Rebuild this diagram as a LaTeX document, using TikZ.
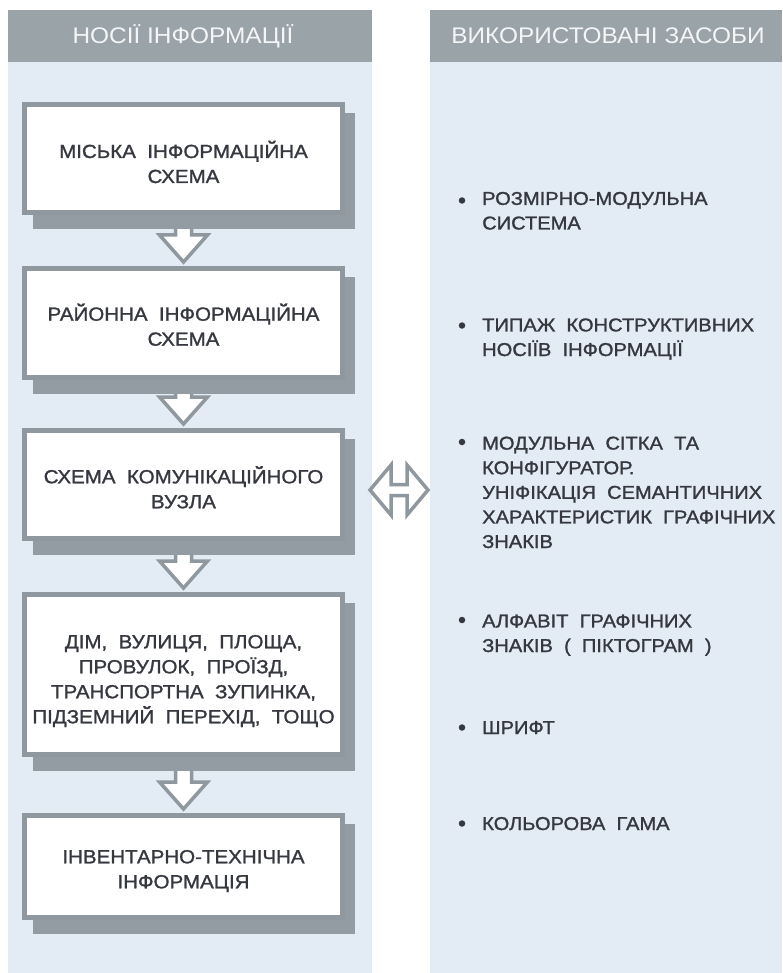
\documentclass[tikz,border=0pt]{standalone}
\usepackage{fontspec}
\setmainfont{Liberation Sans}[FakeStretch=1.08]
\newfontfamily\bodyfont{Liberation Sans}[FakeStretch=1.08, FakeBold=1.3]
\usetikzlibrary{calc,backgrounds}
\definecolor{headc}{HTML}{9AA3A8}
\definecolor{panelc}{HTML}{E3EBF4}
\definecolor{framec}{HTML}{8F989E}
\definecolor{shadowc}{HTML}{939CA2}
\definecolor{textc}{HTML}{35383F}
\definecolor{headtextc}{HTML}{F4F5F6}
\newcommand\downblock[2]{%
  \draw[blockarrow] let \p1=(#1.south), \p2=(#2.north) in
    (\x1-8pt,\y1) -- (\x1-8pt,\y2+31pt) -- (\x1-24pt,\y2+31pt) -- (\x1,\y2+4pt)
    -- (\x1+24pt,\y2+31pt) -- (\x1+8pt,\y2+31pt) -- (\x1+8pt,\y1) -- cycle;}
\newcommand\boxshadow[1]{%
  \fill[shadowc] ($(#1.north west)+(11,11)$) rectangle ($(#1.south east)+(10,14)$);}
\begin{document}
\begin{tikzpicture}[x=1pt,y=-1pt,
  infobox/.style={draw=framec, line width=5pt, fill=white, minimum width=318pt, inner sep=0pt},
  boxtext/.style={anchor=base, align=center, text=textc, font=\bodyfont\fontsize{19}{25}\selectfont, inner sep=0pt},
  itemtext/.style={anchor=base west, align=left, text=textc, font=\bodyfont\fontsize{18.6}{24.6}\selectfont, inner sep=0pt},
  headtext/.style={anchor=base, text=headtextc, font=\fontsize{22.6}{25}\selectfont, inner sep=0pt},
  blockarrow/.style={draw=framec, line width=3.5pt, fill=white, line join=miter},
  dot/.style={circle, fill=textc, minimum size=6.5pt, inner sep=0pt}]
\useasboundingbox (0,0) rectangle (782,973);

% boxes (main layer)
\node[infobox, minimum height=108pt] (b1) at (183.5,158.5) {};
\node[infobox, minimum height=109pt] (b2) at (183.5,323) {};
\node[infobox, minimum height=108pt] (b3) at (183.5,484.5) {};
\node[infobox, minimum height=160pt] (b4) at (183.5,674.5) {};
\node[infobox, minimum height=102pt] (b5) at (183.5,866.5) {};

\begin{pgfonlayer}{background}
  \fill[panelc] (8,62) rectangle (372,973);
  \fill[headc] (8,10) rectangle (372,62);
  \fill[panelc] (430,62) rectangle (782,973);
  \fill[headc] (430,10) rectangle (782,62);
  \downblock{b1}{b2}
  \downblock{b2}{b3}
  \downblock{b3}{b4}
  \downblock{b4}{b5}
  \boxshadow{b1}
  \boxshadow{b2}
  \boxshadow{b3}
  \boxshadow{b4}
  \boxshadow{b5}
\end{pgfonlayer}

% headers
\node[headtext] (h1) at (183,43.5) {НОСІЇ ІНФОРМАЦІЇ};
\node[headtext] (h2) at (608,43.5) {ВИКОРИСТОВАНІ ЗАСОБИ};

% box texts (anchor = baseline of last line)
\node[boxtext] (t1) at (183.5,183) {МІСЬКА~~ІНФОРМАЦІЙНА\\СХЕМА};
\node[boxtext] (t2) at (183.5,345.7) {РАЙОННА~~ІНФОРМАЦІЙНА\\СХЕМА};
\node[boxtext] (t3) at (183.5,508.3) {СХЕМА~~КОМУНІКАЦІЙНОГО\\ВУЗЛА};
\node[boxtext] (t4) at (183.5,723.3) {ДІМ,~~ВУЛИЦЯ,~~ПЛОЩА,\\ПРОВУЛОК,~~ПРОЇЗД,\\ТРАНСПОРТНА~~ЗУПИНКА,\\ПІДЗЕМНИЙ~~ПЕРЕХІД,~~ТОЩО};
\node[boxtext] (t5) at (183.5,888.3) {ІНВЕНТАРНО-ТЕХНІЧНА\\ІНФОРМАЦІЯ};

% double arrow
\coordinate (la) at (370,490);
\coordinate (ra) at (428,490);
\draw[blockarrow] let \p1=(la), \p2=(ra) in
  (\x1,\y1) -- (\x1+21pt,\y1+25pt) -- (\x1+21pt,\y1+5.5pt) -- (\x2-21pt,\y2+5.5pt)
  -- (\x2-21pt,\y2+25pt) -- (\x2,\y2) -- (\x2-21pt,\y2-25pt) -- (\x2-21pt,\y2-5.5pt)
  -- (\x1+21pt,\y1-5.5pt) -- (\x1+21pt,\y1-25pt) -- cycle;

% right items (anchor = baseline of last line)
\node[dot] (d1) at (462,200.5) {};
\node[itemtext] (r1) at (482,229.5) {РОЗМІРНО-МОДУЛЬНА\\СИСТЕМА};
\node[dot] (d2) at (462,325.5) {};
\node[itemtext] (r2) at (482,356) {ТИПАЖ~~КОНСТРУКТИВНИХ\\НОСІЇВ~~ІНФОРМАЦІЇ};
\node[dot] (d3) at (462,442) {};
\node[itemtext] (r3) at (482,548) {МОДУЛЬНА~~СІТКА~~ТА\\КОНФІГУРАТОР.\\УНІФІКАЦІЯ~~СЕМАНТИЧНИХ\\ХАРАКТЕРИСТИК~~ГРАФІЧНИХ\\ЗНАКІВ};
\node[dot] (d4) at (462,620) {};
\node[itemtext] (r4) at (482,652) {АЛФАВІТ~~ГРАФІЧНИХ\\ЗНАКІВ~~(~~ПІКТОГРАМ~~)};
\node[dot] (d5) at (462,727.5) {};
\node[itemtext] (r5) at (482,734) {ШРИФТ};
\node[dot] (d6) at (462,823.5) {};
\node[itemtext] (r6) at (482,830) {КОЛЬОРОВА~~ГАМА};
\end{tikzpicture}
\end{document}
